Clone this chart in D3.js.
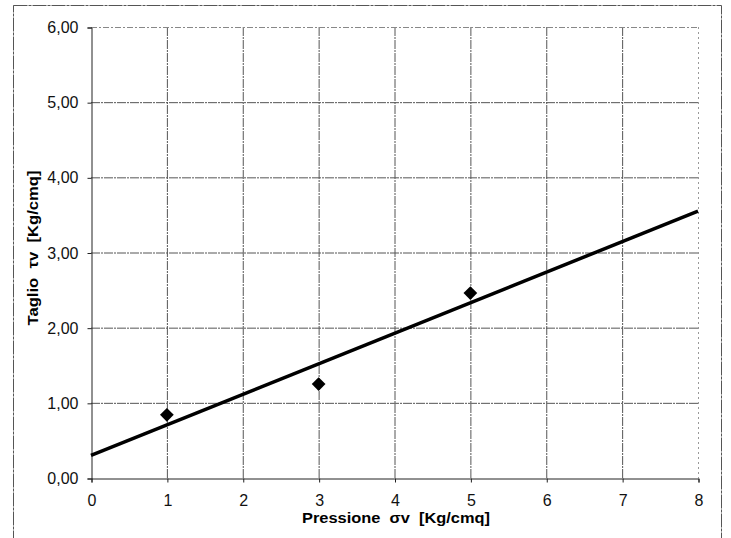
<!DOCTYPE html>
<html>
<head>
<meta charset="utf-8">
<script src="https://cdn.jsdelivr.net/npm/d3@7"></script>
<style>
  body { margin: 0; background: #fff; }
  text { font-family: "Liberation Sans", Arial, sans-serif; }
</style>
</head>
<body>
<div id="root"></div>
<script>
// Measured points (pressure vs shear)
const pressione = [1, 3, 5]
const taglio = [0.84, 1.25, 2.46]

// Trend line ends
const trendX = [0, 8]
const trendY = [0.30, 3.55]

const xTicks = [0, 1, 2, 3, 4, 5, 6, 7, 8]
const yTicks = [0, 1, 2, 3, 4, 5, 6]

const W = 731, H = 538
const margin = { top: 27, right: 33, bottom: 60, left: 91 }
const width = W - margin.left - margin.right
const height = H - margin.top - margin.bottom

const svg = d3.select("#root").append("svg")
  .attr("width", W)
  .attr("height", H)

// outer chart frame
svg.append("rect")
  .attr("x", 13.5).attr("y", 5.5)
  .attr("width", 708).attr("height", 540)
  .attr("fill", "none")
  .attr("stroke", "#555")
  .attr("stroke-width", 1)
  .attr("stroke-dasharray", "14,1,3,1")

const g = svg.append("g")
  .attr("transform", `translate(${margin.left},${margin.top})`)

const x = d3.scaleLinear().domain([0, 8]).range([0, width])
const y = d3.scaleLinear().domain([0, 6]).range([height, 0])

// grid
g.append("g").selectAll("line")
  .data(xTicks.slice(1))
  .enter().append("line")
  .attr("x1", d => x(d) + 0.5).attr("x2", d => x(d) + 0.5)
  .attr("y1", 0).attr("y2", height)
  .attr("stroke", d => d === 8 ? "#999" : "#555")
  .attr("stroke-width", 1)
  .attr("stroke-dasharray", d => d === 8 ? "2,3" : "9,1,2,1")

g.append("g").selectAll("line")
  .data(yTicks.slice(1))
  .enter().append("line")
  .attr("x1", 0).attr("x2", width)
  .attr("y1", d => y(d) + 0.5).attr("y2", d => y(d) + 0.5)
  .attr("stroke", d => d === 6 ? "#888" : "#555")
  .attr("stroke-width", 1)
  .attr("stroke-dasharray", d => d === 6 ? "6,2,2,2" : "9,1,2,1")

// axes
const xAxis = g.append("g")
  .attr("transform", `translate(0.5,${height + 0.5})`)
  .call(d3.axisBottom(x).tickValues(xTicks).tickSize(4).tickFormat(d3.format("d")))
const yAxis = g.append("g")
  .attr("transform", "translate(0.5,0.5)")
  .call(d3.axisLeft(y).tickValues(yTicks).tickSize(4).tickFormat(d => d.toFixed(2).replace(".", ",")))

;[xAxis, yAxis].forEach(a => {
  a.attr("font-size", 16).attr("font-family", "'Liberation Sans', Arial, sans-serif")
  a.select(".domain").attr("stroke", "#222").attr("stroke-width", 1)
  a.selectAll(".tick line").attr("stroke", "#222")
  a.selectAll("text").attr("fill", "#111")
})
xAxis.selectAll("text").attr("y", 16)
yAxis.selectAll("text").attr("x", -13)

// trend line
g.append("path")
  .datum(trendX.map((d, i) => [d, trendY[i]]))
  .attr("fill", "none")
  .attr("stroke", "#000")
  .attr("stroke-width", 3.5)
  .attr("d", d3.line().x(d => x(d[0])).y(d => y(d[1])))

// diamond markers
g.append("g").selectAll("path")
  .data(pressione.map((d, i) => [d, taglio[i]]))
  .enter().append("path")
  .attr("transform", d => `translate(${x(d[0])},${y(d[1])})`)
  .attr("d", d3.symbol().type(d3.symbolDiamond2).size(120))
  .attr("fill", "#000")

// axis titles
svg.append("text")
  .attr("x", 396)
  .attr("y", 523)
  .attr("text-anchor", "middle")
  .attr("font-size", 14)
  .attr("font-weight", "bold")
  .attr("textLength", 188)
  .attr("lengthAdjust", "spacingAndGlyphs")
  .style("white-space", "pre")
  .text("Pressione  σv  [Kg/cmq]")

svg.append("text")
  .attr("transform", "translate(38,248) rotate(-90)")
  .attr("text-anchor", "middle")
  .attr("font-size", 14)
  .attr("font-weight", "bold")
  .attr("textLength", 155)
  .attr("lengthAdjust", "spacingAndGlyphs")
  .style("white-space", "pre")
  .text("Taglio  τv  [Kg/cmq]")
</script>
</body>
</html>
